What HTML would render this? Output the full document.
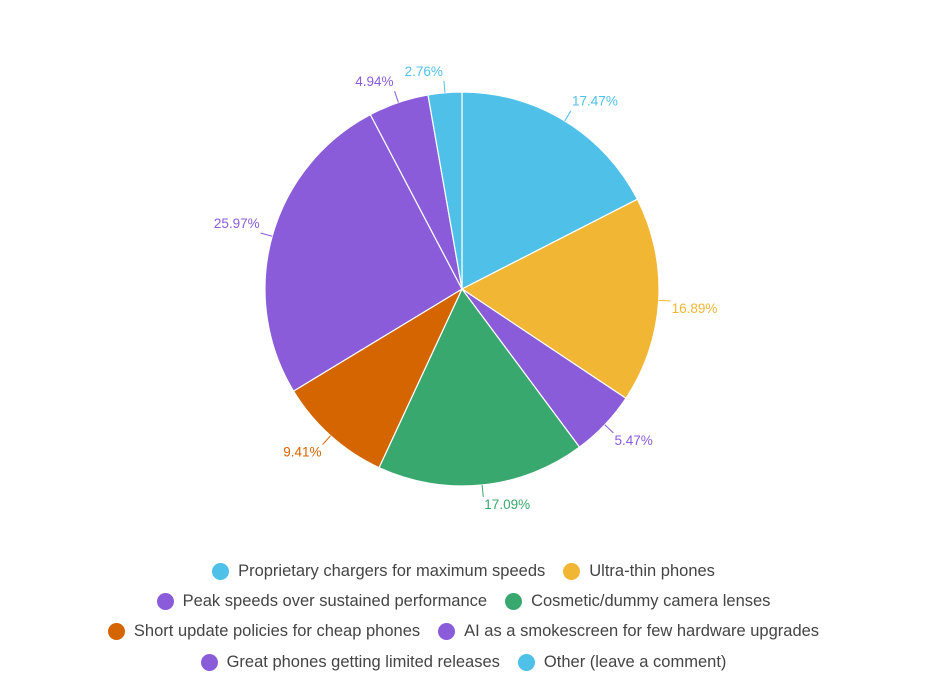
<!DOCTYPE html>
<html><head><meta charset="utf-8"><style>
body{margin:0;background:#fff;width:927px;height:676px;overflow:hidden;font-family:"Liberation Sans",sans-serif}
#chart{position:absolute;left:0;top:0}
.legend{position:absolute;left:0;top:556px;width:927px}
.row{display:flex;justify-content:center;height:30.3px;align-items:center}
.item{display:flex;align-items:center;margin:0 9px;font-size:16.5px;color:#444}
.dot{width:17px;height:17px;border-radius:50%;margin-right:9px}
</style></head><body>
<svg id="chart" width="927" height="550"></svg>
<div class="legend">
<div class="row">
<div class="item"><span class="dot" style="background:#4FC1E8"></span>Proprietary chargers for maximum speeds</div>
<div class="item"><span class="dot" style="background:#F2B635"></span>Ultra-thin phones</div></div>
<div class="row">
<div class="item"><span class="dot" style="background:#8A5CD9"></span>Peak speeds over sustained performance</div>
<div class="item"><span class="dot" style="background:#38A86E"></span>Cosmetic/dummy camera lenses</div></div>
<div class="row">
<div class="item"><span class="dot" style="background:#D46500"></span>Short update policies for cheap phones</div>
<div class="item"><span class="dot" style="background:#8A5CD9"></span>AI as a smokescreen for few hardware upgrades</div></div>
<div class="row">
<div class="item"><span class="dot" style="background:#8A5CD9"></span>Great phones getting limited releases</div>
<div class="item"><span class="dot" style="background:#4FC1E8"></span>Other (leave a comment)</div></div>
</div>
<script>
const categories=["Proprietary chargers for maximum speeds","Ultra-thin phones","Peak speeds over sustained performance","Cosmetic/dummy camera lenses","Short update policies for cheap phones","AI as a smokescreen for few hardware upgrades","Great phones getting limited releases","Other (leave a comment)"];
const values=[17.47,16.89,5.47,17.09,9.41,25.97,4.94,2.76];
const colors=["#4FC1E8","#F2B635","#8A5CD9","#38A86E","#D46500","#8A5CD9","#8A5CD9","#4FC1E8"];
const NS="http://www.w3.org/2000/svg";
const svg=document.getElementById('chart');
const cx=462,cy=289,R=197;
const total=values.reduce((a,b)=>a+b,0);
function pt(a,r){return [cx+r*Math.sin(a),cy-r*Math.cos(a)];}
let a0=0;
values.forEach((v,i)=>{
  const a1=a0+v/total*2*Math.PI;
  const p0=pt(a0,R),p1=pt(a1,R);
  const large=(a1-a0)>Math.PI?1:0;
  const path=document.createElementNS(NS,'path');
  path.setAttribute('d',`M${cx},${cy}L${p0[0]},${p0[1]}A${R},${R} 0 ${large} 1 ${p1[0]},${p1[1]}Z`);
  path.setAttribute('fill',colors[i]);path.setAttribute('stroke','#fff');path.setAttribute('stroke-width','1.2');
  
  
  svg.appendChild(path);
  const m=(a0+a1)/2;
  const e=pt(m,R),o=pt(m,R+12);
  const right=Math.sin(m)>=0;
  const upper=Math.cos(m)>0;
  const ln=document.createElementNS(NS,'line');
  ln.setAttribute('x1',e[0]);ln.setAttribute('y1',e[1]);ln.setAttribute('x2',o[0]);ln.setAttribute('y2',o[1]);
  ln.setAttribute('stroke',colors[i]);
  
  
  svg.appendChild(ln);
  const t=document.createElementNS(NS,'text');
  t.setAttribute('x',o[0]+(right?1:-1));
  t.setAttribute('y',o[1]+(upper?-5:12));
  t.setAttribute('text-anchor',right?'start':'end');
  t.setAttribute('font-size','13.5');t.setAttribute('fill',colors[i]);
  t.textContent=v.toFixed(2)+'%';
  
  
  svg.appendChild(t);
  a0=a1;
});
</script>
</body></html>
